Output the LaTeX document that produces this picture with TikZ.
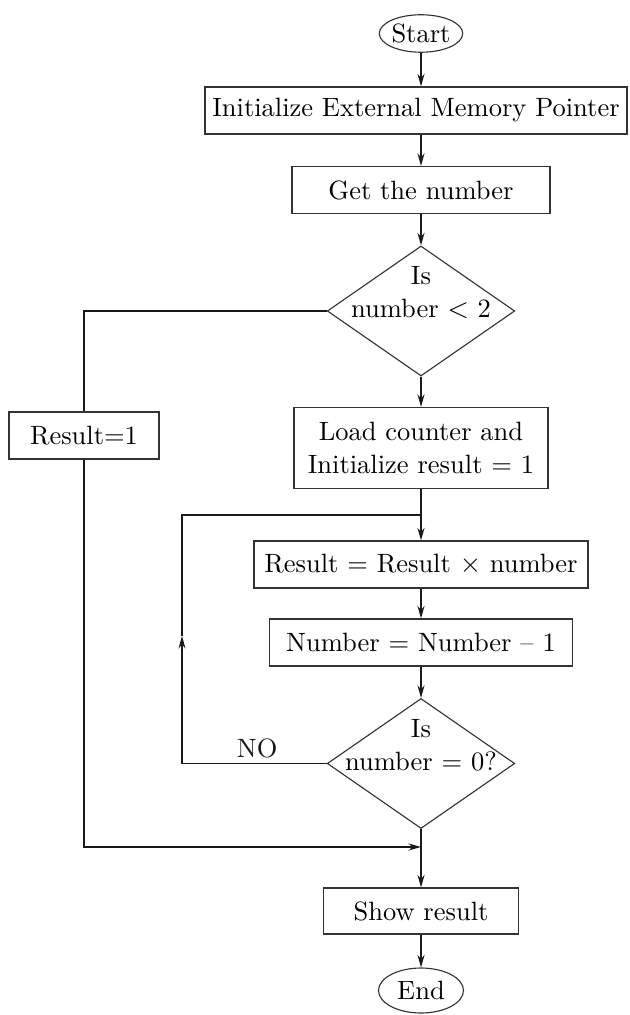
\documentclass[tikz,border=0pt]{standalone}
\usepackage{tikz}
\usetikzlibrary{shapes.geometric, positioning, arrows.meta}

\begin{document}
\begin{tikzpicture}[%
    >={Stealth[length=5pt, width=2.8pt]},
    on grid,
    font=\fontsize{10.6}{13.2}\selectfont,
    every node/.style={inner sep=0pt},
    box/.style={draw=black!80, line width=0.45pt, rectangle, minimum height=18.8pt, align=center},
    terminal/.style={draw=black!80, line width=0.45pt, ellipse, minimum width=30pt, minimum height=15pt},
    decision/.style={draw=black!80, line width=0.45pt, diamond, minimum width=75pt, minimum height=52pt},
    flow/.style={line width=0.8pt, black!90},
    loopline/.style={line width=0.5pt, black!90}
  ]

  \useasboundingbox (-168.4pt,13.4pt) rectangle (83.2pt,-392.6pt);

  \node[terminal] (start) at (0,0) {Start};
  \node[box, minimum width=168.8pt] (init) [below=30.8pt of start, xshift=-2pt] {Initialize External Memory Pointer};
  \node[box, minimum width=103.2pt] (getnum) [below=31.8pt of init, xshift=2pt] {Get the number};
  \node[decision, label={[align=center, yshift=7.5pt]center:Is\\number $<$ 2}] (dec1) [below=48.4pt of getnum] {};
  \node[box, minimum width=101.6pt, minimum height=32.4pt] (load) [below=54.8pt of dec1] {Load counter and\\Initialize result = 1};
  \node[box, minimum width=60pt] (res1) at (-134.8pt,-160.8pt) {Result=1};
  \node[box, minimum width=133.6pt] (mult) [below=46.6pt of load] {Result = Result $\times$ number};
  \node[box, minimum width=121.2pt] (decr) [below=31.2pt of mult] {Number = Number -- 1};
  \node[decision, label={[align=center, yshift=7.5pt]center:Is\\number = 0?}] (dec2) [below=48.4pt of decr] {};
  \node[box, minimum width=78pt, minimum height=18.4pt] (show) [below=59pt of dec2] {Show result};
  \node[terminal, minimum width=34pt, minimum height=18pt] (stop) [below=31.8pt of show] {End};

  \coordinate (loopj) at (0,-192.6pt);
  \coordinate (loopb) at (-95.6pt,0 |- dec2.west);
  \coordinate (loopm) at (-95.6pt,-241pt);
  \coordinate (merge) at (0,-325.4pt);

  % main flow
  \draw[flow, ->] (start) -- (start |- init.north);
  \draw[flow, ->] (start |- init.south) -- (getnum);
  \draw[flow, ->] (getnum) -- (dec1);
  \draw[flow, ->] (dec1) -- (load);
  \draw[flow, ->] (load) -- (mult);
  \draw[flow, ->] (mult) -- (decr);
  \draw[flow, ->] (decr) -- (dec2);
  \draw[flow, ->] (dec2) -- (show);
  \draw[flow, ->] (show) -- (stop);

  % number < 2
  \draw[loopline] (dec1.west) -| (res1.north);
  \draw[flow, ->] (res1.south) |- (merge);

  % loop back
  \draw[loopline, ->] (dec2.west) -- node[above=2pt, pos=0.48] {NO} (loopb) -- (loopm);
  \draw[loopline] (loopm) |- (loopj);
\end{tikzpicture}
\end{document}
